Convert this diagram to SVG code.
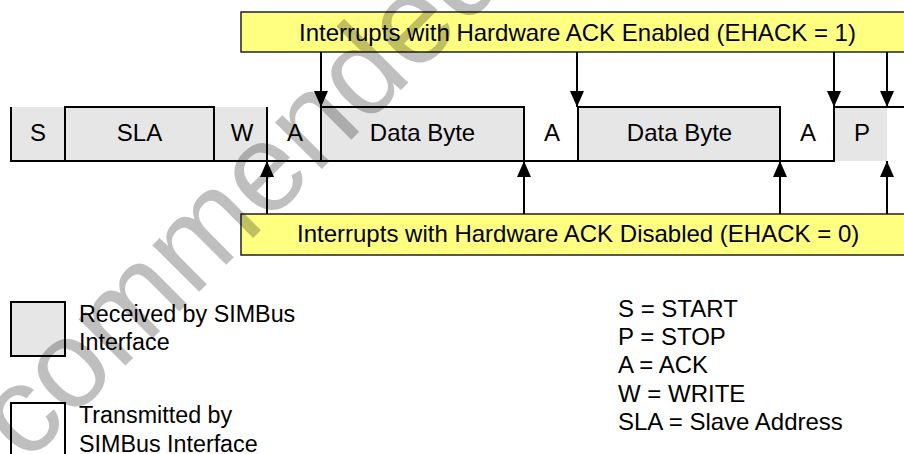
<svg xmlns="http://www.w3.org/2000/svg" width="904" height="454" viewBox="0 0 904 454">
<style>
  text { font-family: "Liberation Sans", Arial, sans-serif; font-size: 24px; fill: #000; }
  .c { text-anchor: middle; }
  .lg { font-size: 23.3px; }
  .rx { fill: #e6e6e6; stroke: none; }
  .ln { stroke: #000; stroke-width: 2; fill: none; }
  .ybox { fill: #ffff80; stroke: #222; stroke-width: 1.5; }
  .arr { stroke: #000; stroke-width: 2; fill: none; }
  .wm { font-size: 125px; fill: #000; fill-opacity: 0.25; }
</style>
<defs>
  <marker id="ah" viewBox="0 0 16 14" refX="16" refY="7" markerWidth="16" markerHeight="14" markerUnits="userSpaceOnUse" orient="auto">
    <path d="M0,0 L16,7 L0,14 Z" fill="#000"/>
  </marker>
</defs>
<rect width="904" height="454" fill="#fff"/>

<g id="frame-row">
  <rect class="rx" x="11" y="107" width="54" height="54"/>
  <rect class="rx" x="65" y="107" width="149" height="54"/>
  <rect class="rx" x="214" y="107" width="53" height="54"/>
  <rect class="rx" x="321" y="107" width="203" height="54"/>
  <rect class="rx" x="578" y="107" width="202" height="54"/>
  <rect class="rx" x="834" y="107" width="53" height="54"/>
  <path class="ln" d="M11,107 V161 H834 V107 H904"/>
  <path class="ln" d="M65,161 V107 H214 V161"/>
  <path class="ln" d="M267,107 V161"/>
  <path class="ln" d="M321,161 V107 H524 V161"/>
  <path class="ln" d="M578,161 V107 H780 V161"/>
</g>
<g id="cell-s"><text class="c" x="38" y="140.5">S</text></g>
<g id="cell-sla"><text class="c" x="139.5" y="140.5">SLA</text></g>
<g id="cell-w"><text class="c" x="242" y="140.5">W</text></g>
<g id="cell-a1"><text class="c" x="295" y="140.5">A</text></g>
<g id="cell-data1"><text class="c" x="422.5" y="140.5">Data Byte</text></g>
<g id="cell-a2"><text class="c" x="552" y="140.5">A</text></g>
<g id="cell-data2"><text class="c" x="679.5" y="140.5">Data Byte</text></g>
<g id="cell-a3"><text class="c" x="808" y="140.5">A</text></g>
<g id="cell-p"><text class="c" x="862" y="140.5">P</text></g>

<g id="box-enabled">
  <rect class="ybox" x="241" y="12" width="670" height="40"/>
  <text x="299" y="40.5">Interrupts with Hardware ACK Enabled (EHACK = 1)</text>
</g>
<g id="box-disabled">
  <rect class="ybox" x="241" y="214" width="670" height="41"/>
  <text x="297" y="242">Interrupts with Hardware ACK Disabled (EHACK = 0)</text>
</g>

<g id="connectors">
  <line class="arr" x1="321" y1="52" x2="321" y2="107" marker-end="url(#ah)"/>
  <line class="arr" x1="577" y1="52" x2="577" y2="107" marker-end="url(#ah)"/>
  <line class="arr" x1="834" y1="52" x2="834" y2="107" marker-end="url(#ah)"/>
  <line class="arr" x1="887" y1="52" x2="887" y2="107" marker-end="url(#ah)"/>
  <line class="arr" x1="267" y1="214" x2="267" y2="161" marker-end="url(#ah)"/>
  <line class="arr" x1="524" y1="214" x2="524" y2="161" marker-end="url(#ah)"/>
  <line class="arr" x1="780" y1="214" x2="780" y2="161" marker-end="url(#ah)"/>
  <line class="arr" x1="887" y1="214" x2="887" y2="161" marker-end="url(#ah)"/>
</g>

<g id="legend-received">
  <rect x="11" y="302" width="54" height="54" fill="#e6e6e6" stroke="#000" stroke-width="2"/>
  <text class="lg" x="79" y="322">Received by SIMBus</text>
  <text class="lg" x="79" y="350">Interface</text>
</g>
<g id="legend-transmitted">
  <rect x="11" y="403" width="54" height="56" fill="#fff" stroke="#000" stroke-width="2"/>
  <text class="lg" x="79" y="423">Transmitted by</text>
  <text class="lg" x="79" y="451.5">SIMBus Interface</text>
</g>
<g id="legend-abbrev">
  <text x="618" y="316.5">S = START</text>
  <text x="618" y="345">P = STOP</text>
  <text x="618" y="373.3">A = ACK</text>
  <text x="618" y="401.7">W = WRITE</text>
  <text x="618" y="430">SLA = Slave Address</text>
</g>

<text class="wm" transform="translate(-87,578) rotate(-45)">Recommended</text>
</svg>
